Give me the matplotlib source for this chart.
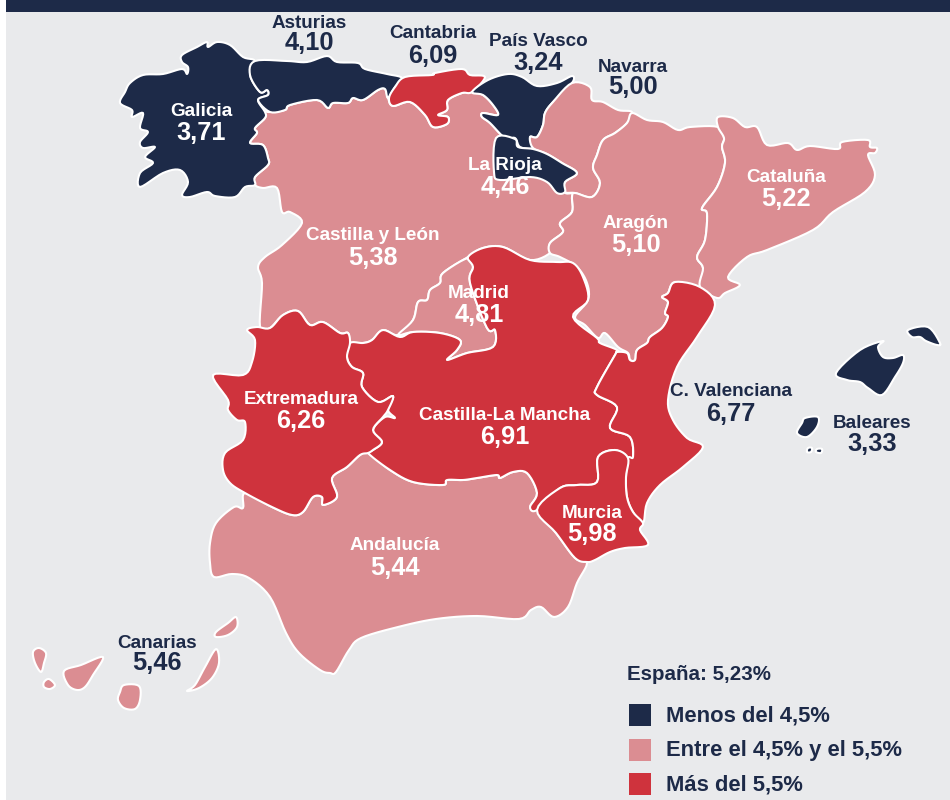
import numpy as np
import matplotlib.pyplot as plt
from matplotlib.patches import Polygon, Rectangle

plt.rcParams['font.family'] = ['Liberation Sans', 'DejaVu Sans']

NAVY = '#1d2a48'
PINK = '#db8d92'
RED = '#cf333d'
BG = '#e9eaec'

REGIONS = ['Galicia', 'Asturias', 'Cantabria', 'País Vasco', 'Navarra', 'La Rioja', 'Aragón',
           'Cataluña', 'Castilla y León', 'Madrid', 'Extremadura', 'Castilla-La Mancha',
           'C. Valenciana', 'Baleares', 'Murcia', 'Andalucía', 'Canarias']
VALUES = [3.71, 4.10, 6.09, 3.24, 5.00, 4.46, 5.10, 5.22, 5.38, 4.81, 6.26, 6.91, 6.77, 3.33,
          5.98, 5.44, 5.46]
SPAIN = 5.23
LEGEND_LABELS = ['Menos del 4,5%', 'Entre el 4,5% y el 5,5%', 'Más del 5,5%']

GALICIA = [(120, 103), (125, 92), (130, 83), (143, 75), (163, 74), (182, 69), (187, 74), (188, 67),
           (182, 62), (182, 55), (197, 47), (207, 42), (208, 47), (217, 42), (230, 45), (243, 57),
           (255, 61), (250, 75), (260, 92), (267, 90), (268, 95), (258, 100), (265, 112), (265, 118),
           (255, 128), (257, 133), (250, 143), (263, 145), (268, 158), (268, 165), (255, 177),
           (255, 185), (245, 187), (235, 197), (215, 196), (207, 192), (190, 197), (182, 195),
           (188, 182), (180, 170), (163, 173), (140, 187), (140, 173), (153, 163), (145, 157),
           (155, 147), (143, 148), (140, 142), (148, 132), (140, 128), (143, 113), (132, 117),
           (132, 110)]
ASTURIAS = [(255, 61), (287, 61), (307, 62), (327, 56), (337, 62), (358, 63), (365, 69), (387, 74),
            (402, 78), (395, 87), (388, 98), (385, 89), (378, 90), (363, 100), (353, 98), (348, 103),
            (333, 103), (328, 108), (317, 100), (290, 105), (285, 110), (270, 112), (258, 100),
            (268, 95), (267, 90), (260, 92), (250, 75)]
CANTABRIA = [(405, 77), (432, 75), (435, 73), (462, 69), (470, 75), (485, 77), (472, 92), (462, 93),
             (448, 100), (447, 110), (438, 115), (448, 117), (447, 124), (433, 127), (425, 115),
             (410, 102), (393, 106), (389, 98), (395, 87)]
PAIS_VASCO = [(472, 92), (488, 80), (508, 74), (522, 77), (537, 86), (557, 83), (572, 76), (572, 83),
              (553, 102), (545, 113), (543, 125), (537, 137), (530, 137), (533, 148), (520, 147),
              (515, 138), (505, 138), (490, 123), (482, 117), (483, 113), (498, 115), (493, 105),
              (483, 95)]
NAVARRA = [(572, 83), (590, 87), (592, 100), (603, 102), (618, 110), (632, 112), (627, 123),
           (615, 133), (603, 140), (597, 155), (593, 168), (600, 183), (592, 197), (575, 193),
           (565, 192), (565, 182), (577, 173), (562, 163), (547, 154), (533, 148), (530, 137),
           (537, 137), (543, 125), (545, 113), (553, 102)]
LA_RIOJA = [(496, 138), (515, 139), (518, 147), (533, 149), (547, 154), (562, 163), (577, 173),
            (565, 182), (565, 192), (557, 193), (547, 182), (530, 177), (500, 180), (494, 172)]
ARAGON = [(632, 113), (647, 120), (663, 122), (678, 130), (690, 127), (718, 127), (724, 138),
          (722, 147), (725, 163), (717, 187), (702, 208), (707, 213), (705, 240), (697, 257),
          (703, 268), (700, 287), (675, 282), (668, 293), (662, 297), (668, 302), (665, 313),
          (668, 317), (662, 328), (650, 337), (647, 343), (637, 350), (635, 360), (630, 360),
          (628, 353), (618, 347), (605, 333), (598, 338), (585, 325), (575, 317), (588, 300),
          (587, 283), (577, 267), (560, 257), (550, 253), (550, 243), (563, 232), (560, 223),
          (572, 212), (572, 197), (575, 193), (592, 197), (600, 183), (593, 168), (597, 155),
          (603, 140), (615, 133), (627, 123)]
CATALUNA = [(718, 117), (733, 118), (745, 127), (757, 127), (767, 145), (788, 143), (797, 150),
            (810, 146), (838, 149), (842, 142), (868, 140), (870, 147), (877, 148), (875, 153),
            (868, 155), (875, 175), (865, 192), (833, 212), (813, 230), (767, 250), (747, 257),
            (728, 277), (740, 285), (725, 293), (717, 298), (700, 287), (703, 268), (697, 257),
            (705, 240), (707, 213), (702, 208), (717, 187), (725, 163), (722, 147), (724, 138),
            (718, 127)]
VALENCIANA = [(675, 282), (700, 287), (715, 305), (697, 337), (677, 367), (668, 400), (673, 420),
              (687, 438), (703, 447), (683, 467), (660, 485), (647, 503), (643, 523), (633, 512),
              (627, 497), (626, 477), (628, 458), (633, 457), (630, 437), (610, 428), (617, 407),
              (597, 395), (597, 387), (615, 355), (617, 352), (627, 353), (630, 360), (635, 360),
              (637, 350), (647, 343), (650, 337), (662, 328), (668, 317), (665, 313), (668, 302),
              (662, 297), (668, 293)]
MURCIA = [(537, 510), (560, 488), (577, 485), (597, 482), (598, 457), (615, 450), (628, 458),
          (626, 477), (627, 497), (633, 512), (643, 523), (640, 530), (648, 545), (625, 548),
          (610, 552), (595, 560), (587, 562), (575, 558), (556, 533)]
MANCHA = [(350, 343), (363, 343), (372, 340), (383, 330), (400, 337), (413, 332), (440, 333),
          (460, 340), (457, 350), (447, 360), (467, 353), (493, 347), (495, 330), (487, 328),
          (470, 283), (473, 267), (468, 257), (483, 248), (503, 247), (530, 260), (557, 262),
          (573, 263), (583, 277), (588, 300), (573, 317), (597, 338), (600, 343), (617, 350),
          (615, 355), (597, 387), (597, 395), (617, 407), (610, 428), (630, 437), (633, 457),
          (628, 458), (615, 450), (598, 457), (597, 482), (577, 485), (560, 488), (537, 510),
          (530, 507), (537, 493), (527, 473), (513, 472), (500, 478), (497, 475), (477, 478),
          (463, 480), (447, 480), (443, 485), (413, 482), (390, 470), (368, 453), (373, 450),
          (382, 442), (373, 430), (385, 417), (395, 418), (388, 410), (393, 396), (378, 402),
          (362, 387), (363, 373), (352, 367), (347, 357)]
EXTREMADURA = [(247, 330), (257, 327), (270, 328), (283, 315), (298, 311), (310, 325), (323, 322),
               (340, 333), (348, 333), (350, 343), (347, 357), (352, 367), (363, 373), (362, 387),
               (378, 402), (393, 396), (388, 410), (383, 417), (373, 430), (382, 442), (373, 450),
               (368, 453), (360, 455), (347, 467), (332, 478), (337, 497), (323, 505), (322, 497),
               (313, 497), (303, 512), (292, 515), (272, 507), (245, 493), (230, 483), (223, 470),
               (225, 453), (243, 440), (245, 422), (237, 420), (228, 410), (228, 400), (213, 375),
               (243, 375), (252, 362), (255, 340)]
MADRID = [(398, 335), (413, 320), (418, 302), (427, 300), (430, 290), (440, 283), (443, 273),
          (468, 258), (473, 267), (470, 283), (487, 328), (495, 330), (493, 347), (467, 353),
          (447, 360), (457, 350), (460, 340), (440, 333), (413, 332)]
CASTILLA_LEON = [(270, 112), (285, 110), (290, 105), (317, 100), (328, 108), (333, 103), (348, 103),
                 (353, 98), (363, 100), (378, 90), (385, 89), (388, 98), (393, 106), (410, 102),
                 (425, 115), (433, 127), (447, 124), (448, 117), (438, 115), (447, 110), (448, 100),
                 (462, 93), (472, 92), (483, 95), (493, 105), (498, 115), (483, 113), (482, 117),
                 (490, 123), (505, 138), (515, 139), (518, 147), (533, 149), (547, 154), (577, 173),
                 (565, 192), (575, 193), (572, 197), (572, 212), (560, 223), (563, 232), (550, 243),
                 (550, 253), (530, 260), (503, 247), (483, 248), (468, 257), (443, 273), (440, 283),
                 (430, 290), (427, 300), (418, 302), (413, 320), (398, 335), (383, 330), (372, 340),
                 (363, 343), (350, 343), (348, 333), (340, 333), (323, 322), (310, 325), (298, 311),
                 (283, 315), (270, 328), (260, 327), (262, 283), (258, 267), (265, 257), (282, 245),
                 (302, 223), (290, 212), (282, 212), (277, 188), (263, 188), (255, 185), (255, 177),
                 (268, 165), (268, 158), (263, 145), (250, 143), (257, 133), (255, 128), (265, 118),
                 (265, 112)]
ANDALUCIA = [(245, 493), (272, 507), (292, 515), (303, 512), (313, 497), (322, 497), (323, 505),
             (337, 497), (332, 478), (347, 467), (360, 455), (368, 453), (390, 470), (413, 482),
             (443, 485), (447, 480), (463, 480), (477, 478), (497, 475), (500, 478), (513, 472),
             (527, 473), (537, 493), (530, 507), (537, 510), (556, 533), (575, 558), (587, 563),
             (577, 583), (568, 607), (554, 617), (541, 607), (531, 610), (519, 619), (477, 616),
             (436, 619), (398, 627), (361, 638), (349, 650), (336, 672), (330, 673), (320, 670),
             (299, 653), (286, 633), (270, 597), (249, 578), (232, 574), (214, 577), (210, 563),
             (210, 543), (216, 523), (234, 507), (243, 508)]
BALEARES = [[(836, 373), (860, 350), (883, 341), (878, 347), (883, 357), (893, 358), (903, 355),
             (903, 363), (895, 377), (882, 395), (868, 388), (860, 382), (847, 380)],
            [(908, 330), (928, 327), (940, 343), (937, 345), (926, 341), (920, 337), (912, 337)],
            [(805, 418), (818, 417), (817, 427), (807, 437), (797, 433), (802, 423)],
            [(808, 448), (812, 448), (811, 452), (807, 452)],
            [(817, 449), (822, 449), (821, 453), (816, 452)]]
CANARIAS = [[(33, 652), (39, 648), (46, 653), (44, 663), (41, 672), (35, 663)],
            [(49, 679), (55, 685), (50, 689), (44, 687), (44, 682)],
            [(64, 671), (81, 665), (103, 657), (93, 675), (85, 687), (77, 690), (68, 685)],
            [(124, 685), (139, 686), (140, 700), (135, 709), (124, 708), (118, 700), (120, 692)],
            [(216, 649), (219, 663), (212, 678), (199, 688), (187, 691), (195, 685), (205, 667)],
            [(236, 617), (237, 627), (228, 635), (216, 637), (216, 632), (228, 623)]]

# drawing order matters, La Rioja sits on top of Castilla y León
SHAPES = {'Castilla y León': [CASTILLA_LEON], 'Galicia': [GALICIA], 'Asturias': [ASTURIAS],
          'Cantabria': [CANTABRIA], 'País Vasco': [PAIS_VASCO], 'Navarra': [NAVARRA],
          'La Rioja': [LA_RIOJA], 'Aragón': [ARAGON], 'Cataluña': [CATALUNA],
          'Andalucía': [ANDALUCIA], 'Madrid': [MADRID], 'Castilla-La Mancha': [MANCHA],
          'Extremadura': [EXTREMADURA], 'C. Valenciana': [VALENCIANA], 'Murcia': [MURCIA],
          'Baleares': BALEARES, 'Canarias': CANARIAS}

LABEL_POS = {'Galicia': (201, 111, 133), 'Asturias': (309, 23, 43), 'Cantabria': (433, 34, 56),
             'País Vasco': (538, 41, 63), 'Navarra': (633, 68, 87), 'La Rioja': (505, 165, 187),
             'Aragón': (636, 223, 245), 'Cataluña': (786, 178, 199),
             'Castilla y León': (373, 235, 258), 'Madrid': (479, 294, 315),
             'Extremadura': (301, 399, 421), 'Castilla-La Mancha': (505, 415, 437),
             'C. Valenciana': (731, 392, 414), 'Baleares': (872, 423, 444),
             'Murcia': (592, 514, 534), 'Andalucía': (395, 546, 568), 'Canarias': (157, 643, 663)}
DARK_LABELS = ['Asturias', 'Cantabria', 'País Vasco', 'Navarra', 'C. Valenciana', 'Baleares',
               'Canarias']


def region_colour(value):
    if value < 4.5:
        return NAVY
    if value <= 5.5:
        return PINK
    return RED


def smooth(outline, steps=6):
    # closed catmull-rom so the traced corners do not look cut with scissors
    pts = np.array(outline, dtype=float)
    t = np.linspace(0, 1, steps, endpoint=False)[:, None]
    out = []
    for i in range(len(pts)):
        p0, p1, p2, p3 = pts[i - 1], pts[i], pts[(i + 1) % len(pts)], pts[(i + 2) % len(pts)]
        out.append(0.5 * (2 * p1 + (p2 - p0) * t + (2 * p0 - 5 * p1 + 4 * p2 - p3) * t ** 2
                          + (3 * p1 - p0 - 3 * p2 + p3) * t ** 3))
    return np.vstack(out)


fig = plt.figure(figsize=(9.5, 8), dpi=100)
ax = fig.add_axes([0, 0, 1, 1])
ax.set_xlim(0, 950)
ax.set_ylim(800, 0)
ax.axis('off')

ax.add_patch(Rectangle((6, 0), 944, 800, color=BG, lw=0))
ax.add_patch(Rectangle((6, 0), 944, 12, color=NAVY, lw=0))

for name in SHAPES:
    colour = region_colour(VALUES[REGIONS.index(name)])
    for outline in SHAPES[name]:
        ax.add_patch(Polygon(smooth(outline), closed=True, facecolor=colour, edgecolor='white',
                             lw=1.5, joinstyle='round'))

for name, value in zip(REGIONS, VALUES):
    x, y_name, y_value = LABEL_POS[name]
    text_colour = NAVY if name in DARK_LABELS else 'white'
    ax.text(x, y_name, name, ha='center', va='center', fontsize=13.6, fontweight='bold',
            color=text_colour)
    ax.text(x, y_value, f'{value:.2f}'.replace('.', ','), ha='center', va='center', fontsize=18.3,
            fontweight='bold', color=text_colour)

ax.text(627, 675, 'España: ' + f'{SPAIN:.2f}'.replace('.', ',') + '%', ha='left', va='center',
        fontsize=14.8, fontweight='bold', color=NAVY)
for i, label in enumerate(LEGEND_LABELS):
    y_top = 704 + i * 34.7
    ax.add_patch(Rectangle((629, y_top), 22, 22, color=[NAVY, PINK, RED][i], lw=0))
    ax.text(666, y_top + 12, label, ha='left', va='center', fontsize=15.8, fontweight='bold',
            color=NAVY)

plt.savefig('out.png', dpi=100)
